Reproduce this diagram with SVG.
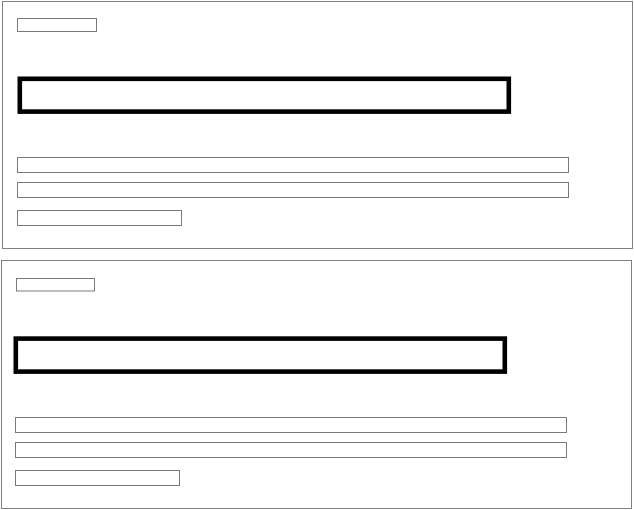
<svg xmlns="http://www.w3.org/2000/svg" width="634" height="510" viewBox="0 0 634 510">
<style>
.panel{fill:#fff;stroke:#808080;stroke-width:1}
.thin{fill:#fff;stroke:#7a7a7a;stroke-width:1}
.thick{fill:#fff;stroke:#000;stroke-width:4.6}
</style>
<rect width="634" height="510" fill="#fff"/>
<g id="panel1">
<rect class="panel" x="2.5" y="1.5" width="630" height="247"/>
<rect class="thin" x="17.5" y="18.5" width="79" height="13"/>
<rect class="thick" x="19.8" y="78.8" width="489" height="32.8"/>
<rect class="thin" x="17.5" y="157.5" width="551" height="15"/>
<rect class="thin" x="17.5" y="182.5" width="551" height="15"/>
<rect class="thin" x="17.5" y="210.5" width="164" height="15"/>
</g>
<g id="panel2">
<rect class="panel" x="1.5" y="260.5" width="630" height="248"/>
<rect class="thin" x="16.5" y="278.5" width="78" height="12.5"/>
<rect class="thick" x="15.8" y="338.6" width="489" height="33"/>
<rect class="thin" x="15.5" y="417.5" width="551" height="15"/>
<rect class="thin" x="15.5" y="442.5" width="551" height="15"/>
<rect class="thin" x="15.5" y="470.5" width="164" height="15"/>
</g>
<g id="connectors"></g>
</svg>
